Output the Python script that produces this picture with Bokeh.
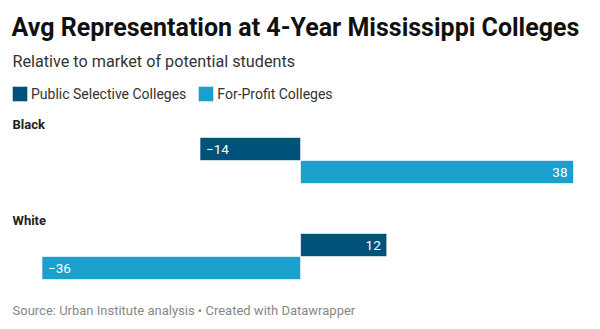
from bokeh.plotting import figure
from bokeh.models import Range1d, Label, Legend, LegendItem, ColumnDataSource
from bokeh.embed import file_html
from bokeh.resources import INLINE

# ---- data ----
groups = ["Black", "White"]
series = ["Public Selective Colleges", "For-Profit Colleges"]
public_selective = [-14, 12]
for_profit = [38, -36]
series_values = [public_selective, for_profit]
colors = ["#00527a", "#1aa0cd"]

title = "Avg Representation at 4-Year Mississippi Colleges"
subtitle = "Relative to market of potential students"
source_note = "Source: Urban Institute analysis \u2022 Created with Datawrapper"

# ---- layout ----
W, H = 600, 329
dom_left, dom_right = 41.5, 573.0
allv = public_selective + for_profit
vmin, vmax = min(allv), max(allv)
k = (dom_right - dom_left) / (vmax - vmin)
xstart = vmin - dom_left / k
xend = xstart + W / k

p = figure(width=W, height=H, output_backend="svg", toolbar_location=None,
           x_range=Range1d(xstart, xend), y_range=Range1d(H, 0),
           min_border=0, min_border_left=0, min_border_right=0,
           min_border_top=0, min_border_bottom=0)
p.axis.visible = False
p.grid.visible = False
p.outline_line_color = None
p.background_fill_color = "white"
p.border_fill_color = "white"

FONT = "Roboto"
bar_h = 23
first_top = 137
group_gap = 96

renderers = []
for si, (name, vals) in enumerate(zip(series, series_values)):
    ys = [first_top + gi * group_gap + si * bar_h + bar_h / 2 for gi in range(len(groups))]
    labels = [("\u2212" + str(abs(v))) if v < 0 else str(v) for v in vals]
    src = ColumnDataSource(dict(y=ys, v=vals, lab=labels,
                                align=["left" if v < 0 else "right" for v in vals],
                                off=[6 if v < 0 else -6 for v in vals]))
    r = p.hbar(y="y", left=0, right="v", height=bar_h, source=src,
               fill_color=colors[si], line_color="white", line_width=0.6)
    renderers.append(r)
    p.text(x="v", y="y", text="lab", source=src, text_align="align",
           x_offset="off", text_baseline="middle", text_color="white",
           text_font={"value": FONT}, text_font_size="13.5px")

for gi, g in enumerate(groups):
    p.add_layout(Label(x=12, y=first_top - 13 + gi * group_gap, x_units="screen",
                       text=g, text_font=FONT, text_font_style="bold",
                       text_font_size="13px", text_color="#222222",
                       text_baseline="middle"))

p.add_layout(Label(x=11, y=27, x_units="screen", text=title, text_font=FONT,
                   text_font_style="bold", text_font_size="25px",
                   text_color="#111111", text_baseline="middle"))
p.add_layout(Label(x=12, y=61, x_units="screen", text=subtitle, text_font=FONT,
                   text_font_size="16.2px", text_color="#333333",
                   text_baseline="middle"))
p.add_layout(Label(x=12, y=310, x_units="screen", text=source_note, text_font=FONT,
                   text_font_size="13px", text_color="#888888",
                   text_baseline="middle"))

legend = Legend(items=[LegendItem(label=s, renderers=[r]) for s, r in zip(series, renderers)],
                orientation="horizontal", location=(10, H - 103),
                glyph_width=19, glyph_height=19, label_height=19,
                label_standoff=2, spacing=10, padding=0, margin=0,
                border_line_alpha=0, background_fill_alpha=0,
                label_text_font=FONT, label_text_font_size="14px",
                label_text_color="#333333", label_text_baseline="middle")
p.add_layout(legend, "center")

open("out.html", "w").write(file_html(p, INLINE))
